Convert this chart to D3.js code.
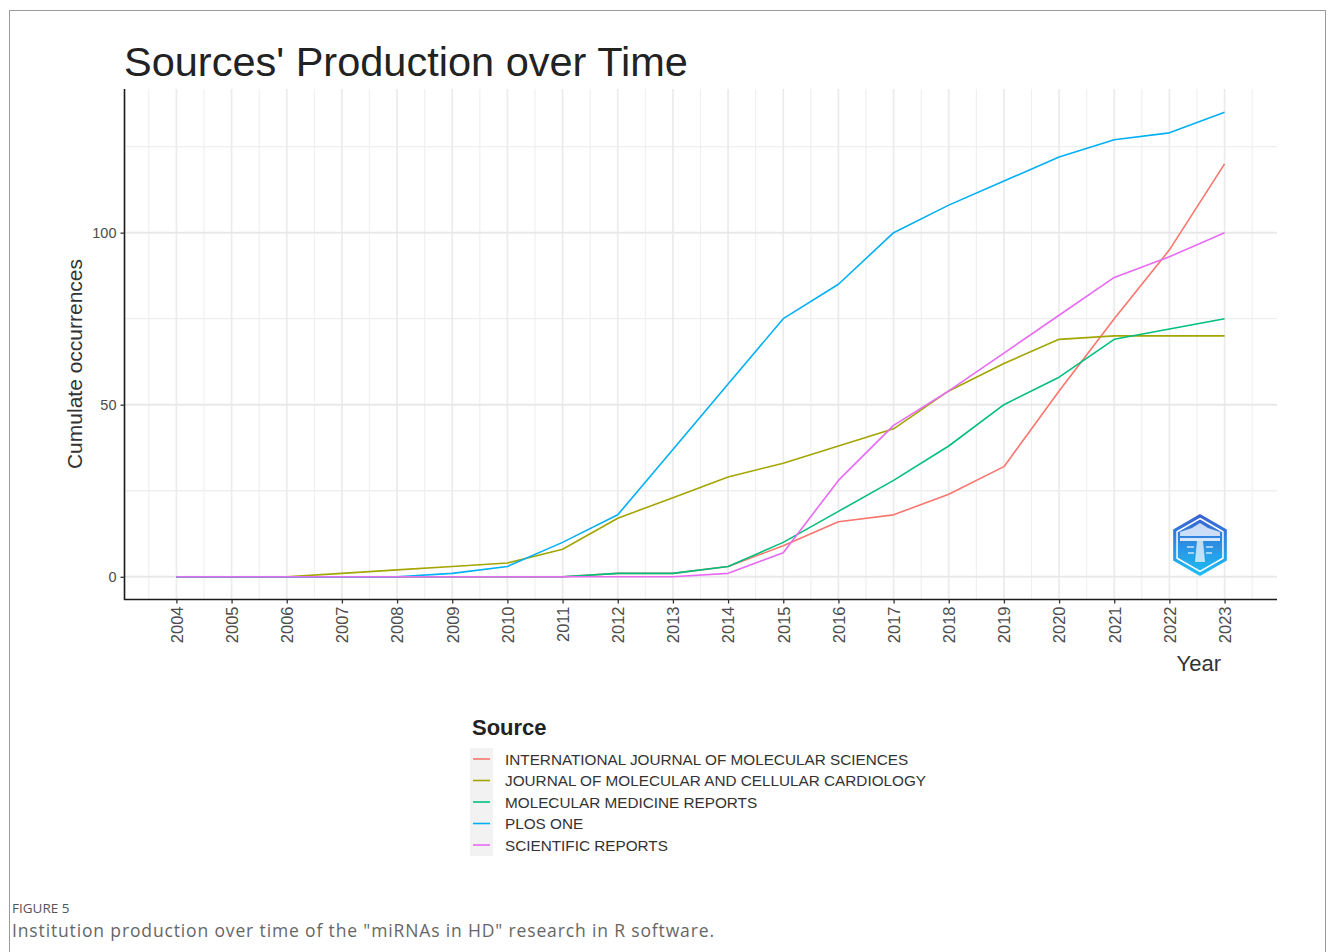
<!DOCTYPE html>
<html>
<head>
<meta charset="utf-8">
<script src="https://cdn.jsdelivr.net/npm/d3@7"></script>
<style>
  html, body { margin: 0; padding: 0; background: #ffffff; }
  svg { display: block; }
</style>
</head>
<body>
<svg id="chart" width="1333" height="952"></svg>
<script>
// ---- data ----
const years = [2004,2005,2006,2007,2008,2009,2010,2011,2012,2013,2014,2015,2016,2017,2018,2019,2020,2021,2022,2023];
const sources = [
  "INTERNATIONAL JOURNAL OF MOLECULAR SCIENCES",
  "JOURNAL OF MOLECULAR AND CELLULAR CARDIOLOGY",
  "MOLECULAR MEDICINE REPORTS",
  "PLOS ONE",
  "SCIENTIFIC REPORTS"
];
const ijms  = [0,0,0,0,0,0,0,0,1,1,3,9,16,18,24,32,54,75,95,120];
const jmcc  = [0,0,0,1,2,3,4,8,17,23,29,33,38,43,54,62,69,70,70,70];
const mmr   = [0,0,0,0,0,0,0,0,1,1,3,10,19,28,38,50,58,69,72,75];
const plos  = [0,0,0,0,0,1,3,10,18,37,56,75,85,100,108,115,122,127,129,135];
const sciRep= [0,0,0,0,0,0,0,0,0,0,1,7,28,44,54,65,76,87,93,100];
const seriesValues = [ijms, jmcc, mmr, plos, sciRep];
const colors = ["#F8766D", "#A3A500", "#00BF7D", "#00B0F6", "#E76BF3"];
const yTicks = [0, 50, 100];
const yMinor = [25, 75, 125];

const titleText = "Sources' Production over Time";
const yTitle = "Cumulate occurrences";
const xTitle = "Year";
const legendTitle = "Source";
const figLabel = "FIGURE 5";
const captionText = "Institution production over time of the \"miRNAs in HD\" research in R software.";

// ---- layout ----
const svg = d3.select("#chart");
const panel = { left: 124, right: 1277, top: 89, bottom: 600 };

// continuous scales with ggplot-style 5% expansion
const xMin = d3.min(years), xMax = d3.max(years);
const xPad = (xMax - xMin) * 0.05;
const x = d3.scaleLinear().domain([xMin - xPad, xMax + xPad]).range([panel.left, panel.right]);
const yMaxData = d3.max(seriesValues.flat());
const yPad = yMaxData * 0.05;
const y = d3.scaleLinear().domain([-yPad, yMaxData + yPad]).range([panel.bottom, panel.top]);

// outer figure frame
svg.append("rect").attr("x", 9.5).attr("y", 10.5).attr("width", 1316).attr("height", 980)
  .attr("fill", "none").attr("stroke", "#9a9a9a").attr("stroke-width", 1);

// gridlines
const grid = svg.append("g");
const xMinorTicks = years.map(d => d - 0.5).concat([xMax + 0.5]);
grid.selectAll(".vminor").data(xMinorTicks).enter().append("line")
  .attr("x1", d => x(d)).attr("x2", d => x(d))
  .attr("y1", panel.top).attr("y2", panel.bottom)
  .attr("stroke", "#efefef").attr("stroke-width", 1.1);
grid.selectAll(".hminor").data(yMinor).enter().append("line")
  .attr("x1", panel.left).attr("x2", panel.right)
  .attr("y1", d => y(d)).attr("y2", d => y(d))
  .attr("stroke", "#efefef").attr("stroke-width", 1.3);
grid.selectAll(".vmajor").data(years).enter().append("line")
  .attr("x1", d => x(d)).attr("x2", d => x(d))
  .attr("y1", panel.top).attr("y2", panel.bottom)
  .attr("stroke", "#ebebeb").attr("stroke-width", 1.7);
grid.selectAll(".hmajor").data(yTicks).enter().append("line")
  .attr("x1", panel.left).attr("x2", panel.right)
  .attr("y1", d => y(d)).attr("y2", d => y(d))
  .attr("stroke", "#e8e8e8").attr("stroke-width", 2);

// watermark logo (hexagon)
const logo = svg.append("g").attr("transform", "translate(1200,545)");
const defs = svg.append("defs");
const grad = defs.append("linearGradient").attr("id", "lg").attr("x1", 0).attr("y1", 0).attr("x2", 0).attr("y2", 1);
grad.append("stop").attr("offset", "0%").attr("stop-color", "#3a5fd0");
grad.append("stop").attr("offset", "100%").attr("stop-color", "#1cc0f5");
const hex = r => d3.range(6).map(i => {
  const a = Math.PI / 3 * i - Math.PI / 2;
  return [r * Math.cos(a), r * Math.sin(a)];
});
logo.append("polygon").attr("points", hex(31).join(" ")).attr("fill", "url(#lg)");
logo.append("polygon").attr("points", hex(26.5).join(" ")).attr("fill", "none")
  .attr("stroke", "#ffffff").attr("stroke-width", 1.5);
logo.append("path").attr("d", "M-20,-13 L-8,-17 L0,-22 L8,-17 L20,-13 L20,-9 L-20,-9 Z").attr("fill", "#ffffff").attr("opacity", 0.75);
logo.append("rect").attr("x", -20).attr("y", -7).attr("width", 40).attr("height", 3).attr("fill", "#ffffff").attr("opacity", 0.8);
logo.append("path").attr("d", "M-3,-4 L3,-4 L5,17 L-5,17 Z").attr("fill", "#ffffff").attr("opacity", 0.7);
logo.append("path").attr("d", "M-13,2 L-6,2 M6,2 L13,2 M-12,8 L-6,8 M6,8 L12,8")
  .attr("stroke", "#ffffff").attr("stroke-width", 1.4).attr("opacity", 0.75);

// lines
const line = d3.line().x((d, i) => x(years[i])).y(d => y(d));
svg.append("g").selectAll("path").data(seriesValues).enter().append("path")
  .attr("d", d => line(d))
  .attr("fill", "none")
  .attr("stroke", (d, i) => colors[i])
  .attr("stroke-width", 1.6)
  .attr("stroke-linejoin", "round");

// axes
const font = "'Liberation Sans', Arial, sans-serif";
const xAxis = d3.axisBottom(x).tickValues(years).tickFormat(d3.format("d")).tickSize(4).tickPadding(4);
const yAxis = d3.axisLeft(y).tickValues(yTicks).tickSize(4).tickPadding(4);

const gx = svg.append("g").attr("transform", `translate(0,${panel.bottom - 0.5})`).call(xAxis);
gx.select(".domain").attr("d", `M${panel.left},0H${panel.right}`).attr("stroke", "#1a1a1a").attr("stroke-width", 1.6);
gx.selectAll(".tick line").attr("stroke", "#333").attr("stroke-width", 1.3);
gx.selectAll(".tick text")
  .attr("transform", "rotate(-90)")
  .attr("x", -7).attr("y", 0).attr("dy", "0.35em")
  .attr("text-anchor", "end")
  .attr("font-family", font).attr("font-size", 16.5).attr("fill", "#4d4d4d");

const gy = svg.append("g").attr("transform", `translate(${panel.left + 0.5},0)`).call(yAxis);
gy.select(".domain").attr("d", `M0,${panel.top}V${panel.bottom}`).attr("stroke", "#1a1a1a").attr("stroke-width", 1.6);
gy.selectAll(".tick line").attr("stroke", "#333").attr("stroke-width", 1.3);
gy.selectAll(".tick text").attr("font-family", font).attr("font-size", 14.5).attr("fill", "#4d4d4d");

// titles
svg.append("text").attr("x", 124).attr("y", 76).text(titleText)
  .attr("font-family", font).attr("font-size", 41.5).attr("fill", "#222");
svg.append("text").attr("transform", "translate(82,364) rotate(-90)")
  .attr("text-anchor", "middle").text(yTitle)
  .attr("font-family", font).attr("font-size", 21).attr("fill", "#333");
svg.append("text").attr("x", 1221).attr("y", 671).attr("text-anchor", "end").text(xTitle)
  .attr("font-family", font).attr("font-size", 22).attr("fill", "#333");

// legend
const legend = svg.append("g");
legend.append("text").attr("x", 472).attr("y", 735).text(legendTitle)
  .attr("font-family", font).attr("font-weight", "bold").attr("font-size", 22).attr("fill", "#222");
const legY = d3.scalePoint().domain(sources).range([759, 845]);
legend.append("rect").attr("x", 470).attr("y", 748).attr("width", 23).attr("height", 108).attr("fill", "#f2f2f2");
const items = legend.selectAll(".item").data(sources).enter().append("g");
items.append("line").attr("x1", 473).attr("x2", 490)
  .attr("y1", d => legY(d)).attr("y2", d => legY(d))
  .attr("stroke", (d, i) => colors[i]).attr("stroke-width", 1.6);
items.append("text").attr("x", 505).attr("y", d => legY(d)).attr("dy", "0.36em").text(d => d)
  .attr("font-family", font).attr("font-size", 15.3).attr("fill", "#333");

// caption
svg.append("text").attr("x", 12).attr("y", 913).text(figLabel)
  .attr("font-family", "'Open Sans', sans-serif").attr("font-size", 13.5).attr("fill", "#555");
svg.append("text").attr("x", 12).attr("y", 937).text(captionText)
  .attr("font-family", "'Open Sans', sans-serif").attr("font-size", 17.5)
  .attr("textLength", 702).attr("lengthAdjust", "spacing").attr("fill", "#666");
</script>
</body>
</html>
